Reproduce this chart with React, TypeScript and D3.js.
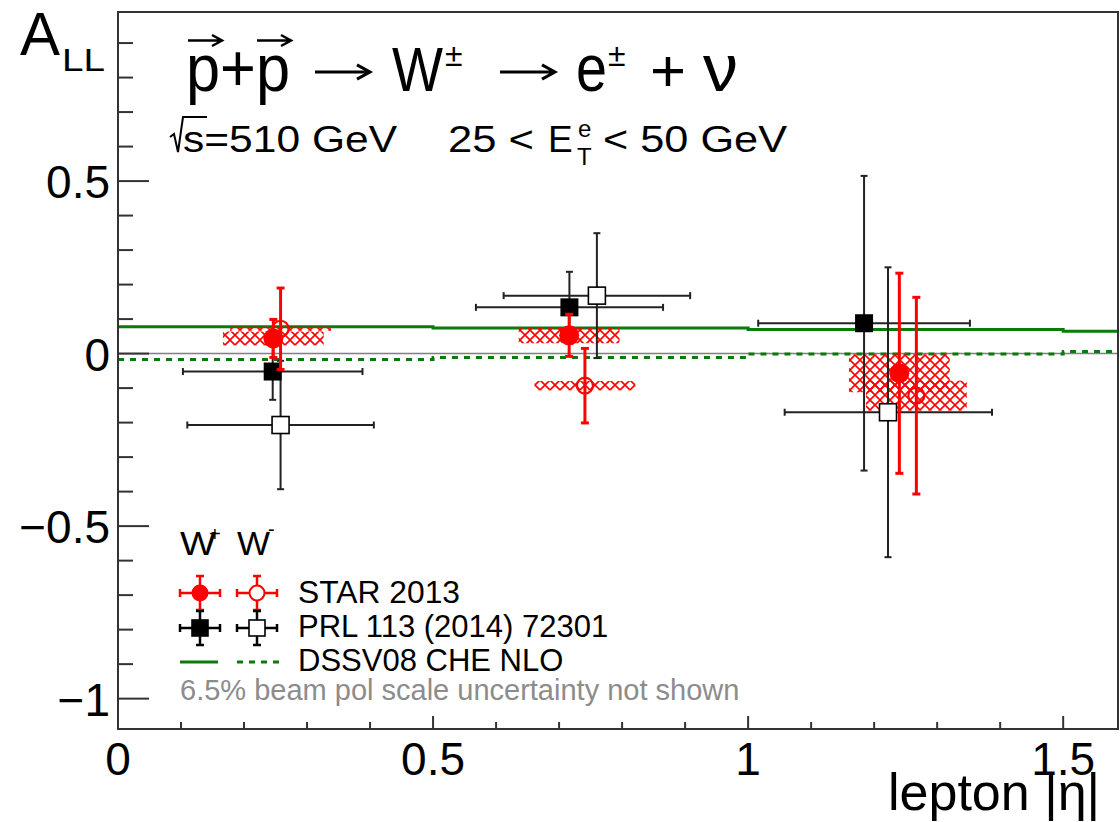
import React, { useRef, useEffect } from "react";
import * as d3 from "d3";

// theory curves (DSSV08 CHE NLO), step per eta bin
const binEdges = [0, 0.5, 1.0, 1.5, 1.587];
const theoryWPlus = [0.078, 0.074, 0.07, 0.065];
const theoryWMinus = [-0.017, -0.011, -0.001, 0.006];

// STAR 2013
const starEtaPlus = [0.2465, 0.716, 1.24];
const starWPlus = [0.044, 0.053, -0.057];
const starWPlusStat = [0.055, 0.061, 0.29];
const starWPlusSys = [0.02, 0.023, 0.055];
const starEtaMinus = [0.258, 0.741, 1.267];
const starWMinus = [0.072, -0.093, -0.122];
const starWMinusStat = [0.118, 0.108, 0.285];
const starWMinusSys = [0.006, 0.0135, 0.0435];
const sysHalfWidth = 0.08;

// PRL 113 (2014) 72301
const prlEtaPlus = [0.2455, 0.7164, 1.184];
const prlEtaPlusLo = [0.103, 0.568, 1.016];
const prlEtaPlusHi = [0.388, 0.865, 1.352];
const prlWPlus = [-0.052, 0.134, 0.088];
const prlWPlusErr = [0.082, 0.103, 0.427];
const prlEtaMinus = [0.258, 0.76, 1.222];
const prlEtaMinusLo = [0.11, 0.612, 1.058];
const prlEtaMinusHi = [0.406, 0.908, 1.387];
const prlWMinus = [-0.207, 0.168, -0.17];
const prlWMinusErr = [0.186, 0.181, 0.42];

const xMajor = [0, 0.5, 1, 1.5];
const xLabels = ["0", "0.5", "1", "1.5"];
const yMajor = [-1, -0.5, 0, 0.5];
const yLabels = ["\u22121", "\u22120.5", "0", "0.5"];

const FONT = "'Liberation Sans', Arial, Helvetica, sans-serif";
const RED = "#ff0000";
const GREEN = "#0b7a0b";

function App() {
  const svgRef = useRef(null);

  useEffect(() => {
    const svg = d3.select(svgRef.current);
    svg.selectAll("*").remove();

    const left = 118, right = 1118, top = 12, bottom = 729;
    const x = d3.scaleLinear().domain([0, 1.587]).range([left, right]);
    const y = d3.scaleLinear().domain([-1.088, 0.99]).range([bottom, top]);

    const defs = svg.append("defs");
    defs.append("clipPath").attr("id", "plotclip")
      .append("rect").attr("x", left).attr("y", top)
      .attr("width", right - left).attr("height", bottom - top);
    const pat = defs.append("pattern").attr("id", "hatch")
      .attr("patternUnits", "userSpaceOnUse")
      .attr("width", 10).attr("height", 10);
    pat.append("path").attr("d", "M0,0 L10,10 M10,0 L0,10 M-1,1 L1,-1 M9,11 L11,9")
      .attr("stroke", RED).attr("stroke-width", 1.6).attr("fill", "none");

    const plot = svg.append("g").attr("clip-path", "url(#plotclip)");

    // zero line
    plot.append("line")
      .attr("x1", left).attr("x2", right)
      .attr("y1", y(0)).attr("y2", y(0))
      .attr("stroke", "#808080").attr("stroke-width", 1.5);

    // theory step lines
    const stepPts = (vals) => binEdges.map((e, i) => [e, vals[Math.min(i, vals.length - 1)]]);
    const stepLine = d3.line().x((d) => x(d[0])).y((d) => y(d[1])).curve(d3.curveStepAfter);
    plot.append("path").attr("d", stepLine(stepPts(theoryWPlus)))
      .attr("fill", "none").attr("stroke", GREEN).attr("stroke-width", 3);
    plot.append("path").attr("d", stepLine(stepPts(theoryWMinus)))
      .attr("fill", "none").attr("stroke", GREEN).attr("stroke-width", 3)
      .attr("stroke-dasharray", "6,6");

    // STAR systematic boxes
    const sysBoxes = [
      ...starEtaPlus.map((e, i) => ({ e, v: starWPlus[i], s: starWPlusSys[i] })),
      ...starEtaMinus.map((e, i) => ({ e, v: starWMinus[i], s: starWMinusSys[i] })),
    ];
    plot.selectAll("rect.sys").data(sysBoxes).enter().append("rect")
      .attr("class", "sys")
      .attr("x", (d) => x(d.e - sysHalfWidth))
      .attr("width", (d) => x(d.e + sysHalfWidth) - x(d.e - sysHalfWidth))
      .attr("y", (d) => y(d.v + d.s))
      .attr("height", (d) => y(d.v - d.s) - y(d.v + d.s))
      .attr("fill", "url(#hatch)");

    // error bar helper
    const errBar = (g, cx, cy, x0, x1, y0, y1, color, w, cap) => {
      if (x0 !== null) {
        g.append("line").attr("x1", x0).attr("x2", x1).attr("y1", cy).attr("y2", cy)
          .attr("stroke", color).attr("stroke-width", w);
        g.append("line").attr("x1", x0).attr("x2", x0).attr("y1", cy - cap).attr("y2", cy + cap)
          .attr("stroke", color).attr("stroke-width", w);
        g.append("line").attr("x1", x1).attr("x2", x1).attr("y1", cy - cap).attr("y2", cy + cap)
          .attr("stroke", color).attr("stroke-width", w);
      }
      g.append("line").attr("x1", cx).attr("x2", cx).attr("y1", y0).attr("y2", y1)
        .attr("stroke", color).attr("stroke-width", w);
      g.append("line").attr("x1", cx - cap).attr("x2", cx + cap).attr("y1", y0).attr("y2", y0)
        .attr("stroke", color).attr("stroke-width", w);
      g.append("line").attr("x1", cx - cap).attr("x2", cx + cap).attr("y1", y1).attr("y2", y1)
        .attr("stroke", color).attr("stroke-width", w);
    };

    // PRL points
    const prlG = plot.append("g");
    prlEtaPlus.forEach((e, i) => {
      errBar(prlG, x(e), y(prlWPlus[i]), x(prlEtaPlusLo[i]), x(prlEtaPlusHi[i]),
        y(prlWPlus[i] + prlWPlusErr[i]), y(prlWPlus[i] - prlWPlusErr[i]), "#222", 2, 3.5);
    });
    prlEtaMinus.forEach((e, i) => {
      errBar(prlG, x(e), y(prlWMinus[i]), x(prlEtaMinusLo[i]), x(prlEtaMinusHi[i]),
        y(prlWMinus[i] + prlWMinusErr[i]), y(prlWMinus[i] - prlWMinusErr[i]), "#222", 2, 3.5);
    });
    prlEtaPlus.forEach((e, i) => {
      prlG.append("rect").attr("x", x(e) - 9).attr("y", y(prlWPlus[i]) - 9)
        .attr("width", 18).attr("height", 18).attr("fill", "#000");
    });
    prlEtaMinus.forEach((e, i) => {
      prlG.append("rect").attr("x", x(e) - 8.5).attr("y", y(prlWMinus[i]) - 8.5)
        .attr("width", 17).attr("height", 17).attr("fill", "#fff")
        .attr("stroke", "#000").attr("stroke-width", 1.6);
    });

    // STAR points
    const starG = plot.append("g");
    starEtaMinus.forEach((e, i) => {
      errBar(starG, x(e), y(starWMinus[i]), null, null,
        y(starWMinus[i] + starWMinusStat[i]), y(starWMinus[i] - starWMinusStat[i]), RED, 3, 4);
      starG.append("circle").attr("cx", x(e)).attr("cy", y(starWMinus[i])).attr("r", 8)
        .attr("fill", "none").attr("stroke", RED).attr("stroke-width", 2.2);
    });
    starEtaPlus.forEach((e, i) => {
      errBar(starG, x(e), y(starWPlus[i]), null, null,
        y(starWPlus[i] + starWPlusStat[i]), y(starWPlus[i] - starWPlusStat[i]), RED, 3, 4);
      starG.append("circle").attr("cx", x(e)).attr("cy", y(starWPlus[i])).attr("r", 10)
        .attr("fill", RED);
    });

    // frame
    svg.append("rect").attr("x", left).attr("y", top)
      .attr("width", right - left).attr("height", bottom - top)
      .attr("fill", "none").attr("stroke", "#333").attr("stroke-width", 2);

    // x ticks
    const xMinor = d3.range(0, 1.59, 0.1);
    svg.selectAll("line.xminor").data(xMinor).enter().append("line")
      .attr("x1", (d) => x(d)).attr("x2", (d) => x(d))
      .attr("y1", bottom).attr("y2", (d) => bottom - (xMajor.some((m) => Math.abs(m - d) < 1e-6) ? 13 : 7))
      .attr("stroke", "#333").attr("stroke-width", 2);
    svg.selectAll("text.xlab").data(xMajor).enter().append("text")
      .attr("x", (d) => x(d)).attr("y", 775)
      .attr("text-anchor", "middle")
      .attr("font-family", FONT).attr("font-size", 46)
      .text((d, i) => xLabels[i]);

    // y ticks
    const yMinor = d3.range(-1.0, 0.99, 0.1);
    svg.selectAll("line.yminor").data(yMinor).enter().append("line")
      .attr("y1", (d) => y(d)).attr("y2", (d) => y(d))
      .attr("x1", left).attr("x2", (d) => left + (yMajor.some((m) => Math.abs(m - d) < 1e-6) ? 31 : 15))
      .attr("stroke", "#333").attr("stroke-width", 2);
    svg.selectAll("text.ylab").data(yMajor).enter().append("text")
      .attr("x", 110).attr("y", (d) => y(d) + 17)
      .attr("text-anchor", "end")
      .attr("font-family", FONT).attr("font-size", 46)
      .text((d, i) => yLabels[i]);

    // text helper
    const txt = (tx, ty, size, s, len, sy) => {
      const t = svg.append("text")
        .attr("transform", `translate(${tx},${ty}) scale(1,${sy || 1})`)
        .attr("font-family", FONT).attr("font-size", size).text(s);
      if (len) t.attr("textLength", len).attr("lengthAdjust", "spacingAndGlyphs");
      return t;
    };
    const arrow = (x0, x1, ay, head, w) => {
      svg.append("path")
        .attr("d", `M${x0},${ay} L${x1},${ay} M${x1 - head},${ay - head * 0.55} L${x1},${ay} L${x1 - head},${ay + head * 0.55}`)
        .attr("fill", "none").attr("stroke", "#000").attr("stroke-width", w);
    };

    // axis titles
    txt(20, 55, 60, "A", null, 1.03);
    txt(62, 71, 32, "LL", 43);
    txt(888, 810, 52, "lepton |\u03b7|");

    // title
    txt(186, 91, 60, "p+p", 104, 1.12);
    arrow(188, 222, 40.5, 10, 2.5);
    arrow(257, 291, 40.5, 10, 2.5);
    arrow(315, 370, 72, 13, 3);
    txt(392, 91, 60, "W", 51, 1.05);
    txt(445, 66, 32, "\u00b1");
    arrow(500, 555, 72, 13, 3);
    txt(576, 91, 60, "e", 31, 1.1);
    txt(608, 66, 32, "\u00b1");
    txt(650, 91, 60, "+", 36);
    txt(703, 91, 60, "\u03bd", 35, 1.1);

    // subtitle
    svg.append("path").attr("d", "M170,137 L174,134 L178,152 L183,117 L207,117")
      .attr("fill", "none").attr("stroke", "#000").attr("stroke-width", 2);
    txt(183, 152, 37, "s=510 GeV", 214);
    txt(448, 152, 37, "25 <", 86);
    txt(548, 152, 37, "E");
    txt(577, 165, 24, "T");
    txt(578, 137, 24, "e");
    txt(603, 152, 37, "< 50 GeV", 184);

    // legend
    txt(180, 555, 34, "W", 36);
    txt(209, 541, 20, "+");
    txt(237, 555, 34, "W", 33);
    txt(268, 536, 20, "-");

    const legG = svg.append("g");
    const legRows = [593, 628];
    const legCols = [200, 257];
    legCols.forEach((cx, c) => {
      errBar(legG, cx, legRows[0], cx - 20, cx + 20, legRows[0] - 17, legRows[0] + 17, RED, 2.5, 4);
      legG.append("circle").attr("cx", cx).attr("cy", legRows[0]).attr("r", 7.5)
        .attr("fill", c === 0 ? RED : "#fff").attr("stroke", RED).attr("stroke-width", 2);
      errBar(legG, cx, legRows[1], cx - 20, cx + 20, legRows[1] - 17, legRows[1] + 17, "#000", 2.5, 4);
      legG.append("rect").attr("x", cx - 8).attr("y", legRows[1] - 8)
        .attr("width", 16).attr("height", 16)
        .attr("fill", c === 0 ? "#000" : "#fff").attr("stroke", "#000").attr("stroke-width", 1.6);
    });
    legG.append("line").attr("x1", 180).attr("x2", 218).attr("y1", 662).attr("y2", 662)
      .attr("stroke", GREEN).attr("stroke-width", 3);
    legG.append("line").attr("x1", 237).attr("x2", 282).attr("y1", 662).attr("y2", 662)
      .attr("stroke", GREEN).attr("stroke-width", 3).attr("stroke-dasharray", "6,6");

    txt(298, 603, 31, "STAR 2013", 162);
    txt(298, 637, 31, "PRL 113 (2014) 72301");
    txt(298, 671, 31, "DSSV08 CHE NLO");
    txt(180, 700, 29, "6.5% beam pol scale uncertainty not shown").attr("fill", "#8c8c8c");
  }, []);

  return (
    <svg ref={svgRef} width={1120} height={822}
      style={{ position: "absolute", left: 0, top: 0, background: "#fff" }}></svg>
  );
}

export default App;
